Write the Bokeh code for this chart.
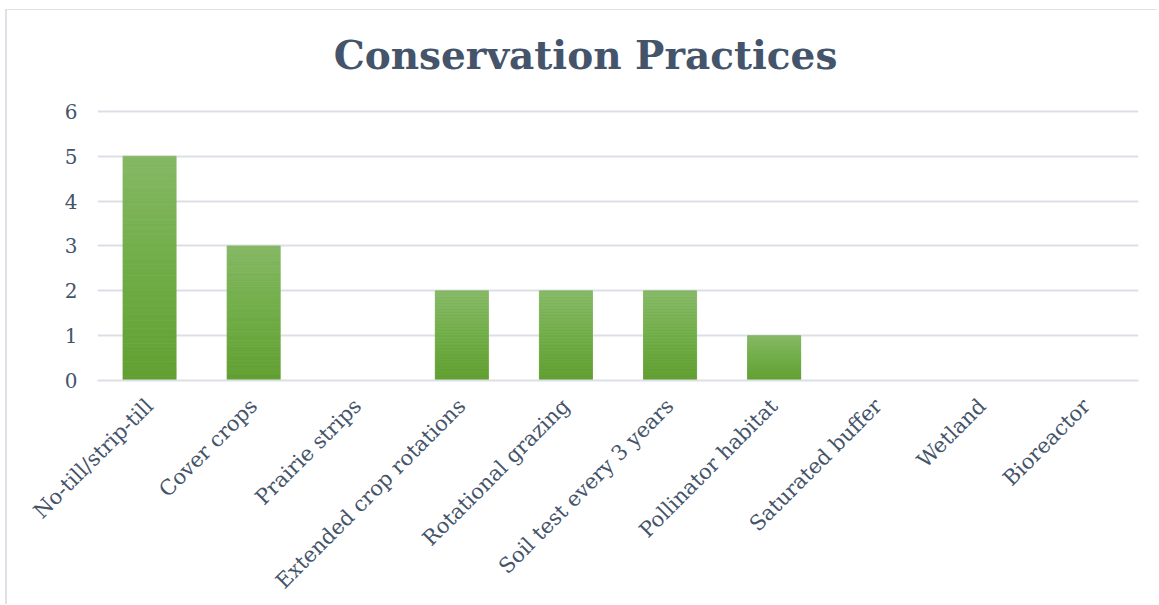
import math
from bokeh.plotting import figure
from bokeh.models import FactorRange, Range1d, FixedTicker, Label
from bokeh.embed import file_html
from bokeh.resources import INLINE

categories = ["No-till/strip-till", "Cover crops", "Prairie strips",
              "Extended crop rotations", "Rotational grazing",
              "Soil test every 3 years", "Pollinator habitat",
              "Saturated buffer", "Wetland", "Bioreactor"]
counts = [5, 3, 0, 2, 2, 2, 1, 0, 0, 0]
y_ticks = [0, 1, 2, 3, 4, 5, 6]
title_text = "Conservation Practices"

TEXT = "#44546A"
GRID = "#DCE0E6"

# frame reaches the top of the canvas so the title can sit inside it
p = figure(x_range=FactorRange(*categories), y_range=Range1d(0, 8.25),
           width=1152, height=595, output_backend="svg", toolbar_location=None,
           min_border_left=90, min_border_right=21, min_border_top=0,
           min_border_bottom=225)
p.styles = {"margin-left": "5px", "margin-top": "9px",
            "border-left": "2px solid #DEE2E8", "border-top": "1px solid #DEE2E8"}
p.outline_line_color = None
p.background_fill_color = "white"
p.border_fill_color = "white"

# gradient bars: slices from bottom (dark) to top (light)
N = 60
bottom_c = (98, 159, 49)
mid_c = (112, 173, 71)
top_c = (133, 184, 100)

def lerp(a, b, t):
    return tuple(int(round(a[i] + (b[i] - a[i]) * t)) for i in range(3))

xs, bots, tops, cols = [], [], [], []
for cat, v in zip(categories, counts):
    if v <= 0:
        continue
    for k in range(N):
        t = (k + 0.5) / N
        c = lerp(bottom_c, mid_c, t / 0.5) if t < 0.5 else lerp(mid_c, top_c, (t - 0.5) / 0.5)
        xs.append(cat)
        bots.append(v * k / N)
        tops.append(v * (k + 1) / N)
        cols.append("#%02x%02x%02x" % c)

p.vbar(x=xs, bottom=bots, top=tops, width=0.51, fill_color=cols, line_color=cols, line_width=0.8)

title_label = Label(x=488, y=326, x_units="screen", y_units="screen",
                    text=title_text, text_align="center", text_baseline="alphabetic",
                    text_font="DejaVu Serif", text_font_style="bold",
                    text_font_size="39px", text_color=TEXT)
p.add_layout(title_label)

p.yaxis.ticker = FixedTicker(ticks=y_ticks)
p.yaxis.axis_line_color = None
p.yaxis.major_tick_line_color = None
p.yaxis.minor_tick_line_color = None
p.yaxis.major_label_text_font = "DejaVu Serif"
p.yaxis.major_label_text_font_size = "20px"
p.yaxis.major_label_text_color = TEXT
p.yaxis.major_label_standoff = 14

p.xaxis.axis_line_color = GRID
p.xaxis.axis_line_width = 2
p.xaxis.major_tick_line_color = None
p.xaxis.minor_tick_line_color = None
p.xaxis.major_label_orientation = math.pi / 4
p.xaxis.major_label_text_font = "DejaVu Serif"
p.xaxis.major_label_text_font_size = "21px"
p.xaxis.major_label_text_color = TEXT
p.xaxis.major_label_standoff = 16

p.xgrid.grid_line_color = None
p.ygrid.grid_line_color = GRID
p.ygrid.grid_line_width = 2

open("out.html", "w").write(file_html(p, INLINE))
